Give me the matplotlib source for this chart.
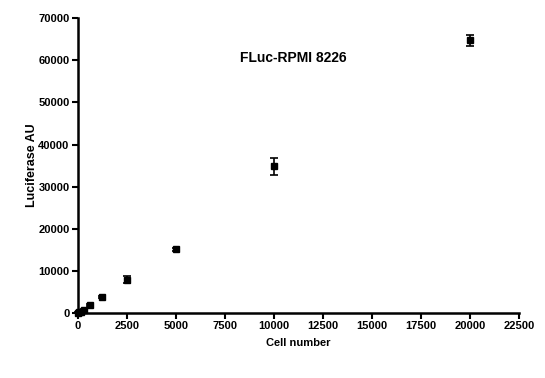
import matplotlib
matplotlib.use("Agg")
import matplotlib.pyplot as plt

cells = [0, 78, 156, 312.5, 625, 1250, 2500, 5000, 10000, 20000]
lum_mean = [100, 200, 350, 700, 1900, 3900, 7900, 15100, 34800, 64800]
lum_err = [50, 80, 100, 150, 200, 250, 800, 400, 2100, 1300]

xticks = [0, 2500, 5000, 7500, 10000, 12500, 15000, 17500, 20000, 22500]
yticks = [0, 10000, 20000, 30000, 40000, 50000, 60000, 70000]

plt.rcParams['font.family'] = ['Liberation Sans', 'DejaVu Sans']
plt.rcParams['font.weight'] = 'bold'

fig = plt.figure(figsize=(5.45, 3.78), dpi=100)
ax = fig.add_axes([0.143, 0.172, 0.809, 0.78])

ax.errorbar(cells, lum_mean, yerr=lum_err, fmt='s', color='black', ms=4.5,
            capsize=3, elinewidth=1.2, capthick=1.2, clip_on=False, zorder=3)

ax.set_xlim(0, 22500)
ax.set_ylim(0, 70000)
ax.set_xticks(xticks)
ax.set_yticks(yticks)
ax.set_xticklabels([str(t) for t in xticks], fontsize=8, fontweight='bold')
ax.set_yticklabels([str(t) for t in yticks], fontsize=8, fontweight='bold')
ax.spines['top'].set_visible(False)
ax.spines['right'].set_visible(False)
for s in ['left', 'bottom']:
    ax.spines[s].set_linewidth(1.8)
ax.tick_params(direction='out', length=4, width=1.5, pad=2)

ax.set_xlabel('Cell number', fontsize=8, fontweight='bold', labelpad=5)
ax.set_ylabel('Luciferase AU', fontsize=9, fontweight='bold', labelpad=0)
ax.text(11000, 60500, 'FLuc-RPMI 8226', fontsize=10, fontweight='bold',
        ha='center', va='center')

fig.savefig('out.png', dpi=100)
